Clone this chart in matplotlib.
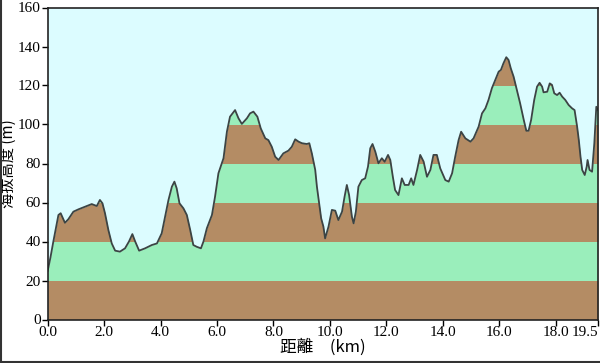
import numpy as np
import matplotlib
matplotlib.use("Agg")
import matplotlib.pyplot as plt
from matplotlib.lines import Line2D

distance_km = [
    0.00, 0.10, 0.20, 0.38, 0.46, 0.61, 0.73, 0.91, 1.09, 1.32, 1.56, 1.74, 1.85, 1.94,
    2.03, 2.15, 2.27, 2.39, 2.56, 2.74, 2.88, 3.00, 3.10, 3.24, 3.45, 3.69, 3.87, 4.04,
    4.16, 4.28, 4.40, 4.49, 4.57, 4.67, 4.81, 4.93, 5.05, 5.16, 5.28, 5.43, 5.52, 5.64,
    5.82, 5.93, 6.05, 6.23, 6.35, 6.46, 6.64, 6.76, 6.88, 7.06, 7.17, 7.29, 7.43, 7.55,
    7.71, 7.82, 7.94, 8.06, 8.18, 8.35, 8.53, 8.65, 8.77, 8.89, 9.01, 9.18, 9.27, 9.36,
    9.48, 9.54, 9.62, 9.69, 9.77, 9.83, 9.95, 10.07, 10.19, 10.30, 10.43, 10.52, 10.60,
    10.68, 10.78, 10.84, 10.92, 11.01, 11.13, 11.25, 11.35, 11.43, 11.51, 11.61, 11.72,
    11.84, 11.94, 12.06, 12.14, 12.23, 12.31, 12.43, 12.55, 12.65, 12.79, 12.88, 12.96,
    13.09, 13.20, 13.32, 13.44, 13.56, 13.67, 13.79, 13.91, 14.09, 14.21, 14.33, 14.44,
    14.56, 14.65, 14.80, 14.98, 15.09, 15.27, 15.39, 15.51, 15.62, 15.74, 15.86, 15.98,
    16.06, 16.15, 16.25, 16.33, 16.41, 16.51, 16.63, 16.74, 16.87, 16.96, 17.04, 17.13,
    17.24, 17.34, 17.43, 17.52, 17.57, 17.70, 17.79, 17.87, 17.95, 18.05, 18.14, 18.23,
    18.34, 18.46, 18.58, 18.67, 18.76, 18.82, 18.88, 18.94, 19.03, 19.10, 19.13, 19.20,
    19.29, 19.37, 19.44, 19.50,
]
elevation_m = [
    25, 32, 40, 53.6, 54.5, 49.6, 51.4, 55.3, 56.5, 57.8, 59.2, 58.2, 61.3, 59.6,
    54.5, 45.9, 39, 35.3, 34.8, 36.5, 40, 43.8, 40, 35.3, 36.5, 38.2, 39, 44.2,
    52.7, 61.3, 68.1, 70.7, 67.3, 59.6, 57, 53.6, 45.9, 38.2, 37.3, 36.5, 40, 46.8,
    53.6, 63, 75, 82.7, 96.3, 104, 107.4, 103.2, 100.3, 103.2, 105.7, 106.6, 104, 98,
    92.9, 92, 88.6, 83.5, 81.8, 85.2, 86.6, 88.6, 92.4, 91.2, 90.4, 90, 90.4, 85.2,
    76.7, 68.1, 59.6, 51.9, 47.6, 41.6, 47.6, 56.2, 55.8, 51, 55.3, 63, 69,
    63.8, 52.7, 49.3, 55.3, 68.1, 71.5, 72.4, 78.4, 87.8, 90, 86, 80.1,
    82.7, 80.9, 84.4, 81.8, 73.2, 66.4, 63.8, 72.4, 69, 69, 72.4, 69,
    76.7, 84.4, 81, 73.2, 76.7, 84.4, 84.4, 77.5, 71.5, 70.7, 75, 83.5,
    92, 96.3, 92.9, 91.2, 92.9, 98.9, 105.7, 108.3, 112.6, 118.6, 122.8, 127.1,
    128, 131.4, 134.5, 133.1, 128.8, 124.5, 117.5, 110.9, 102.3, 96.8, 96.8, 102.3,
    112.6, 119.4, 121.4, 119.4, 116.5, 116.8, 121.1, 120.3, 116, 115.1, 116.3, 114.3,
    112.6, 110, 108.3, 107.4, 98.9, 92, 83.5, 76.7, 74.1, 78.4, 81.8, 76.7,
    75.8, 90.4, 109.1, 107.4,
]
band_edges = [0, 20, 40, 60, 80, 100, 120, 140, 160]
x_ticks = [0.0, 2.0, 4.0, 6.0, 8.0, 10.0, 12.0, 14.0, 16.0, 18.0, 19.5]
x_ticklabels = ["0.0", "2.0", "4.0", "6.0", "8.0", "10.0", "12.0", "14.0", "16.0", "18.0", "19.5"]
y_ticks = [0, 20, 40, 60, 80, 100, 120, 140, 160]

plt.rcParams['font.family'] = ['Noto Sans CJK TC', 'DejaVu Sans']

fig = plt.figure(figsize=(6.0, 3.63), dpi=100)
ax = fig.add_axes([47.7 / 600, 1 - 319.5 / 363, (598 - 47.7) / 600, (319.5 - 7.5) / 363])
ax.set_facecolor('#dcfcff')

x = np.array(distance_km)
y = np.array(elevation_m)
xf = np.linspace(x[0], x[-1], 4000)
yf = np.interp(xf, x, y)

brown = '#b48c64'
green = '#9aeebb'
for i in range(len(band_edges) - 1):
    lo, hi = band_edges[i], band_edges[i + 1]
    top = np.clip(yf, lo, hi)
    ax.fill_between(xf, lo, top, color=brown if i % 2 == 0 else green, lw=0)

ax.plot(x, y, color='#3c4444', lw=1.3)

ax.set_xlim(0, 19.5)
ax.set_ylim(0, 160)
ax.set_xticks(x_ticks)
ax.set_xticklabels(x_ticklabels)
ax.set_yticks(y_ticks)
for lab in ax.get_xticklabels() + ax.get_yticklabels():
    lab.set_fontfamily('Liberation Serif')
    lab.set_fontsize(11)
ax.get_xticklabels()[-1].set_horizontalalignment('right')
ax.tick_params(direction='out', length=4, width=1, color='black', pad=1)
for s in ax.spines.values():
    s.set_color('#222222')
    s.set_linewidth(1.2)

ax.set_ylabel('海拔高度 (m)', fontsize=11)
ax.yaxis.set_label_coords(-0.057, 0.5)
ax.set_xlabel('距離　(km)', fontsize=12, labelpad=-1)

fig.add_artist(Line2D([0.5 / 600, 0.5 / 600], [0, 1], color='#333333', lw=1.5, transform=fig.transFigure))
fig.add_artist(Line2D([0, 1], [1.5 / 363, 1.5 / 363], color='#333333', lw=1.5, transform=fig.transFigure))

fig.savefig('out.png', dpi=100)
